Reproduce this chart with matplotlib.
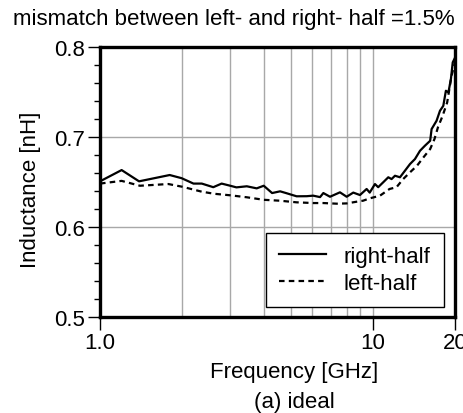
import matplotlib
matplotlib.use('Agg')
import matplotlib.pyplot as plt
from matplotlib.ticker import FixedLocator, NullFormatter, NullLocator

plt.rcParams['font.family'] = ['Liberation Sans', 'DejaVu Sans']

# right-half (solid)
f_right = [1.0, 1.2, 1.39, 1.8, 1.99, 2.2, 2.36, 2.6, 2.79, 3.0, 3.16, 3.45, 3.75,
           3.98, 4.27, 4.57, 4.8, 5.25, 5.72, 6.04, 6.4, 6.58, 6.96, 7.57, 8.01,
           8.47, 8.96, 9.48, 9.73, 10.17, 10.45, 10.9, 11.38, 11.7, 12.04, 12.56,
           13.1, 13.67, 14.25, 14.87, 15.5, 16.2, 16.4, 17.1, 17.6, 18.1, 18.5,
           18.9, 19.3, 19.6, 20.0]
L_right = [0.6505, 0.663, 0.6505, 0.6575, 0.654, 0.648, 0.648, 0.644, 0.648, 0.6456,
           0.6438, 0.645, 0.6427, 0.6456, 0.6375, 0.6394, 0.6375, 0.6339, 0.634,
           0.6346, 0.633, 0.6375, 0.6334, 0.6383, 0.6334, 0.638, 0.6353, 0.642,
           0.638, 0.6475, 0.644, 0.6494, 0.655, 0.653, 0.6567, 0.655, 0.6623,
           0.6697, 0.6752, 0.6844, 0.690, 0.6955, 0.7085, 0.7177, 0.7288, 0.7343,
           0.751, 0.7492, 0.764, 0.7825, 0.788]

# left-half (dashed)
f_left = [1.0, 1.2, 1.4, 1.78, 2.0, 2.36, 2.62, 3.0, 3.45, 3.98, 4.56, 5.25, 6.04,
          6.58, 7.36, 8.01, 8.72, 9.2, 9.73, 10.6, 11.5, 12.2, 12.9, 13.67, 14.5,
          15.3, 16.2, 16.8, 17.3, 18.0, 18.7, 19.4, 20.0]
L_left = [0.648, 0.651, 0.6456, 0.6475, 0.6445, 0.639, 0.6367, 0.635, 0.6328, 0.630,
          0.629, 0.6272, 0.6264, 0.6264, 0.6257, 0.626, 0.6279, 0.629, 0.6316,
          0.6345, 0.642, 0.644, 0.653, 0.6605, 0.6678, 0.677, 0.6863, 0.6974,
          0.7104, 0.7233, 0.738, 0.7676, 0.783]

xticks = [1.0, 10, 20]
xtick_labels = ['1.0', '10', '20']
xgrid = [2, 3, 4, 5, 6, 7, 8, 9, 10]
yticks = [0.5, 0.6, 0.7, 0.8]

fig = plt.figure(figsize=(4.63, 4.14), dpi=100)
ax = fig.add_axes([0.216, 0.232, 0.767, 0.653])

for g in xgrid:
    ax.axvline(g, color='#a8a8a8', lw=1.0, zorder=1)
for g in [0.6, 0.7]:
    ax.axhline(g, color='#a8a8a8', lw=1.0, zorder=1)

ax.plot(f_right, L_right, color='black', lw=1.6, label='right-half', zorder=3)
ax.plot(f_left, L_left, color='black', lw=1.6, dashes=(2.5, 1.9), label='left-half', zorder=3)

ax.set_xscale('log')
ax.set_xlim(1, 20)
ax.set_ylim(0.5, 0.8)
ax.xaxis.set_major_locator(FixedLocator(xticks))
ax.xaxis.set_minor_locator(NullLocator())
ax.set_xticklabels(xtick_labels)
ax.xaxis.set_minor_formatter(NullFormatter())
ax.set_yticks(yticks)
ax.set_yticklabels(['0.5', '0.6', '0.7', '0.8'])
ax.set_yticks([0.52, 0.54, 0.56, 0.58, 0.62, 0.64, 0.66, 0.68, 0.72, 0.74, 0.76, 0.78], minor=True)
ax.tick_params(which='major', direction='out', length=9, width=1, labelsize=16, pad=2)
ax.tick_params(which='minor', direction='out', length=4, width=1)

for s in ax.spines.values():
    s.set_linewidth(2.4)

leg = ax.legend(loc='lower right', bbox_to_anchor=(0.969, 0.037), borderaxespad=0,
                fancybox=False, edgecolor='black', framealpha=1, fontsize=16,
                handlelength=2.1, handletextpad=0.8, borderpad=0.6, labelspacing=0.25)
leg.get_frame().set_linewidth(1.0)
leg.set_zorder(5)

fig.text(0.065, 0.541, 'Inductance [nH]', rotation=90, fontsize=16, ha='center', va='center')
fig.text(0.505, 0.952, 'mismatch between left- and right- half =1.5%', fontsize=16,
         ha='center', va='center')
fig.text(0.636, 0.101, 'Frequency [GHz]', fontsize=16, ha='center', va='center')
fig.text(0.636, 0.027, '(a) ideal', fontsize=16, ha='center', va='center')

fig.savefig('out.png', dpi=100)
